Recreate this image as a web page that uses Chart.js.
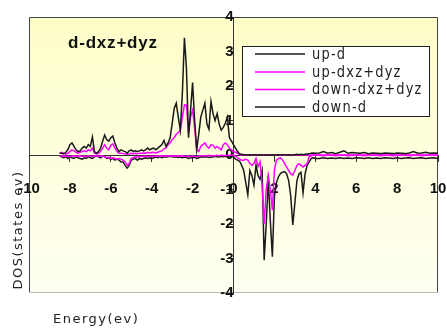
<!DOCTYPE html>
<html>
<head>
<meta charset="utf-8">
<script src="https://cdn.jsdelivr.net/npm/chart.js@4.4.1/dist/chart.umd.min.js"></script>
<style>
  html, body { margin: 0; padding: 0; background: #ffffff; }
  #dos { display: block; }
</style>
</head>
<body>
<canvas id="dos" width="447" height="329"></canvas>
<script>
// Energie (eV) - pas de 0.1 jusqu'a 4, puis 0.2
const energies = [
  -8.5, -8.4, -8.3, -8.2, -8.1, -8.0, -7.9, -7.8, -7.7, -7.6,
  -7.5, -7.4, -7.3, -7.2, -7.1, -7.0, -6.9, -6.8, -6.7, -6.6,
  -6.5, -6.4, -6.3, -6.2, -6.1, -6.0, -5.9, -5.8, -5.7, -5.6,
  -5.5, -5.4, -5.3, -5.2, -5.1, -5.0, -4.9, -4.8, -4.7, -4.6,
  -4.5, -4.4, -4.3, -4.2, -4.1, -4.0, -3.9, -3.8, -3.7, -3.6,
  -3.5, -3.4, -3.3, -3.2, -3.1, -3.0, -2.9, -2.8, -2.7, -2.6,
  -2.5, -2.4, -2.3, -2.2, -2.1, -2.0, -1.9, -1.8, -1.7, -1.6,
  -1.5, -1.4, -1.3, -1.2, -1.1, -1.0, -0.9, -0.8, -0.7, -0.6,
  -0.5, -0.4, -0.3, -0.2, -0.1, 0.0, 0.1, 0.2, 0.3, 0.4,
  0.5, 0.6, 0.7, 0.8, 0.9, 1.0, 1.1, 1.2, 1.3, 1.4,
  1.5, 1.6, 1.7, 1.8, 1.9, 2.0, 2.1, 2.2, 2.3, 2.4,
  2.5, 2.6, 2.7, 2.8, 2.9, 3.0, 3.1, 3.2, 3.3, 3.4,
  3.5, 3.6, 3.7, 3.8, 3.9, 4.0,
  4.2, 4.4, 4.6, 4.8, 5.0, 5.2, 5.4, 5.6, 5.8, 6.0,
  6.2, 6.4, 6.6, 6.8, 7.0, 7.2, 7.4, 7.6, 7.8, 8.0,
  8.2, 8.4, 8.6, 8.8, 9.0, 9.2, 9.4, 9.6, 9.8, 10.0
];

// up-d (spin haut, total d)
const upD = [
  0.05, 0.05, 0.03, 0.08, 0.15, 0.3, 0.35, 0.25, 0.15, 0.1,
  0.12, 0.2, 0.25, 0.2, 0.3, 0.25, 0.52, 0.1, 0.05, 0.1,
  0.2, 0.4, 0.58, 0.45, 0.4, 0.5, 0.55, 0.35, 0.2, 0.1,
  0.15, 0.12, 0.1, 0.05, 0.12, 0.15, 0.1, 0.12, 0.1, 0.12,
  0.15, 0.12, 0.15, 0.2, 0.15, 0.18, 0.2, 0.15, 0.2, 0.25,
  0.3, 0.42, 0.25, 0.35, 0.5, 0.9, 1.35, 1.5, 1.1, 0.72,
  1.8, 3.4, 2.5, 0.5, 1.3, 2.1, 1.0, 0.15, 0.6, 1.1,
  1.3, 1.5, 0.9, 0.75, 1.55, 1.2, 1.0, 1.2, 0.9, 0.72,
  0.8, 0.92, 1.1, 0.5, 0.4, 0.3, 0.2, 0.1, 0.03, 0.02,
  0.01, 0.01, 0.0, 0.01, 0.0, 0.01, 0.01, 0.0, 0.01, 0.0,
  0.0, 0.01, 0.0, 0.0, 0.01, 0.0, 0.0, 0.01, 0.0, 0.01,
  0.01, 0.0, 0.01, 0.0, 0.0, 0.01, 0.02, 0.01, 0.02, 0.01,
  0.02, 0.03, 0.04, 0.05, 0.06, 0.05,
  0.06, 0.1, 0.05, 0.07, 0.04, 0.08, 0.12, 0.05, 0.07, 0.06,
  0.05, 0.07, 0.04, 0.06, 0.05, 0.04, 0.06, 0.05, 0.04, 0.06,
  0.05, 0.04, 0.06, 0.1, 0.05, 0.06, 0.08, 0.05, 0.06, 0.05
];

// up-dxz+dyz
const upDxzDyz = [
  0.05, 0.08, 0.05, 0.03, 0.05, 0.1, 0.15, 0.12, 0.08, 0.05,
  0.08, 0.1, 0.12, 0.1, 0.15, 0.12, 0.2, 0.05, 0.03, 0.05,
  0.1, 0.2, 0.3, 0.2, 0.15, 0.28, 0.32, 0.2, 0.1, 0.05,
  0.05, 0.04, 0.03, 0.02, 0.03, 0.05, 0.04, 0.05, 0.04, 0.05,
  0.05, 0.06, 0.05, 0.08, 0.06, 0.07, 0.08, 0.06, 0.08, 0.1,
  0.12, 0.18, 0.2, 0.3, 0.35, 0.45, 0.5, 0.6, 0.65, 0.72,
  1.1, 1.45, 1.45, 0.63, 1.1, 1.3, 0.8, 0.15, 0.1, 0.25,
  0.3, 0.35, 0.25, 0.2, 0.3, 0.28, 0.2, 0.25, 0.2, 0.15,
  0.3, 0.35, 0.3, 0.2, 0.15, 0.1, 0.08, 0.05, 0.02, 0.0,
  0.0, 0.0, 0.0, 0.0, 0.0, 0.0, 0.0, 0.0, 0.0, 0.0,
  0.0, 0.0, 0.0, 0.0, 0.0, 0.0, 0.0, 0.0, 0.0, 0.0,
  0.0, 0.0, 0.0, 0.0, 0.0, 0.0, 0.0, 0.0, 0.0, 0.0,
  0.0, 0.0, 0.0, 0.0, 0.0, 0.0,
  0.0, 0.0, 0.0, 0.0, 0.0, 0.0, 0.0, 0.0, 0.0, 0.0,
  0.0, 0.0, 0.0, 0.0, 0.0, 0.0, 0.0, 0.0, 0.0, 0.0,
  0.0, 0.0, 0.0, 0.0, 0.0, 0.0, 0.0, 0.0, 0.0, 0.0
];

// down-dxz+dyz (spin bas, valeurs negatives)
const downDxzDyz = [
  -0.02, -0.03, -0.02, -0.04, -0.03, -0.05, -0.03, -0.02, -0.04, -0.03,
  -0.02, -0.04, -0.03, -0.05, -0.02, -0.03, -0.04, -0.02, -0.03, -0.04,
  -0.03, -0.02, -0.05, -0.08, -0.06, -0.1, -0.08, -0.1, -0.12, -0.1,
  -0.12, -0.15, -0.2, -0.3, -0.25, -0.1, -0.08, -0.05, -0.06, -0.05,
  -0.04, -0.05, -0.03, -0.04, -0.05, -0.03, -0.04, -0.03, -0.02, -0.03,
  -0.02, -0.03, -0.02, -0.03, -0.02, -0.03, -0.02, -0.03, -0.02, -0.03,
  -0.02, -0.03, -0.04, -0.03, -0.05, -0.03, -0.04, -0.05, -0.03, -0.02,
  -0.02, -0.03, -0.02, -0.01, -0.02, -0.03, -0.02, -0.01, -0.02, -0.01,
  -0.01, -0.02, -0.01, -0.01, 0.0, 0.0, -0.03, -0.08, -0.12, -0.15,
  -0.15, -0.12, -0.15, -0.25, -0.3, -0.24, -0.1, -0.34, -0.2, -0.9,
  -2.0, -1.0, -0.58, -1.0, -1.6, -0.43, -0.15, -0.1, -0.08, -0.15,
  -0.25, -0.35, -0.45, -0.55, -0.58, -0.45, -0.3, -0.25, -0.3, -0.35,
  -0.3, -0.25, -0.05, -0.02, -0.01, -0.01,
  -0.01, -0.02, -0.01, -0.01, -0.02, -0.01, -0.01, -0.02, -0.01, -0.01,
  -0.01, -0.02, -0.01, -0.01, -0.01, -0.02, -0.01, -0.01, -0.02, -0.01,
  -0.01, -0.01, -0.02, -0.01, -0.01, -0.02, -0.01, -0.01, -0.01, -0.01
];

// down-d
const downD = [
  -0.03, -0.05, -0.08, -0.05, -0.1, -0.05, -0.08, -0.1, -0.05, -0.08,
  -0.1, -0.12, -0.08, -0.1, -0.05, -0.08, -0.1, -0.05, -0.03, -0.05,
  -0.08, -0.03, -0.05, -0.1, -0.08, -0.12, -0.1, -0.15, -0.12, -0.15,
  -0.2, -0.2, -0.3, -0.38, -0.3, -0.15, -0.12, -0.1, -0.15, -0.1,
  -0.12, -0.1, -0.08, -0.1, -0.08, -0.1, -0.08, -0.05, -0.08, -0.05,
  -0.08, -0.05, -0.06, -0.05, -0.04, -0.05, -0.06, -0.05, -0.07, -0.06,
  -0.08, -0.06, -0.07, -0.1, -0.08, -0.08, -0.06, -0.1, -0.08, -0.06,
  -0.05, -0.06, -0.05, -0.07, -0.05, -0.06, -0.04, -0.05, -0.06, -0.04,
  -0.05, -0.04, -0.05, -0.05, -0.03, -0.05, -0.12, -0.15, -0.18, -0.3,
  -0.45, -0.8, -1.15, -0.45, -0.6, -0.87, -0.3, -0.6, -0.7, -0.45,
  -3.05, -2.0, -0.72, -1.9, -2.95, -1.2, -0.8, -0.63, -0.53, -0.5,
  -0.48, -0.55, -0.75, -1.2, -2.03, -1.4, -0.75, -0.55, -0.5, -1.1,
  -0.55, -0.3, -0.2, -0.1, -0.08, -0.1,
  -0.1, -0.08, -0.1, -0.09, -0.1, -0.08, -0.1, -0.09, -0.1, -0.08,
  -0.09, -0.1, -0.08, -0.1, -0.09, -0.1, -0.08, -0.09, -0.1, -0.08,
  -0.1, -0.09, -0.08, -0.1, -0.09, -0.08, -0.1, -0.09, -0.08, -0.1
];

const seriesNames = ['up-d', 'up-dxz+dyz', 'down-dxz+dyz', 'down-d'];
const xTicks = [-10, -8, -6, -4, -2, 0, 2, 4, 6, 8, 10];
const yTicks = [-4, -3, -2, -1, 0, 1, 2, 3, 4];
const chartTitle = 'd-dxz+dyz';
const xTitle = 'Energy(ev)';
const yTitle = 'DOS(states ev)';

// Couleurs
const colors = {
  black: '#1a1a1a',
  magenta: '#ff00ff',
  axis: '#333333',
  text: '#111111',
  bgTop: '#fdfdc8',
  bgBottom: '#fffff2'
};

function toPoints(values) {
  return values.map((v, i) => ({ x: energies[i], y: v }));
}

// Les axes centres ne doivent pas reserver de marge supplementaire
function noScalePadding(scale) {
  scale.paddingLeft = 0;
  scale.paddingRight = 0;
  scale.paddingTop = 0;
  scale.paddingBottom = 0;
}

// Fond jaune degrade + cadre du graphique
const plotFrame = {
  id: 'plotFrame',
  beforeDraw(chart) {
    const { ctx, chartArea: a } = chart;
    const g = ctx.createLinearGradient(0, a.top, 0, a.bottom);
    g.addColorStop(0, colors.bgTop);
    g.addColorStop(1, colors.bgBottom);
    ctx.save();
    ctx.fillStyle = g;
    ctx.fillRect(a.left, a.top, a.right - a.left, a.bottom - a.top);
    ctx.strokeStyle = '#444444';
    ctx.lineWidth = 1;
    ctx.beginPath();
    ctx.moveTo(a.left + 0.5, a.bottom);
    ctx.lineTo(a.left + 0.5, a.top + 0.5);
    ctx.lineTo(a.right - 0.5, a.top + 0.5);
    ctx.lineTo(a.right - 0.5, a.bottom);
    ctx.stroke();
    ctx.strokeStyle = '#bbbbbb';
    ctx.beginPath();
    ctx.moveTo(a.left, a.bottom - 0.5);
    ctx.lineTo(a.right, a.bottom - 0.5);
    ctx.stroke();
    ctx.restore();
  }
};

// Titre, legende encadree et titres des axes
const annotations = {
  id: 'annotations',
  afterDraw(chart) {
    const { ctx } = chart;
    ctx.save();
    ctx.fillStyle = colors.text;
    ctx.textBaseline = 'alphabetic';
    ctx.textAlign = 'left';

    ctx.font = "bold 17px 'Liberation Sans'";
    ctx.letterSpacing = '0.8px';
    ctx.fillText(chartTitle, 68, 48);

    // legende
    ctx.fillStyle = '#ffffff';
    ctx.fillRect(242, 46, 187, 70);
    ctx.strokeStyle = '#222222';
    ctx.lineWidth = 1;
    ctx.strokeRect(242.5, 46.5, 187, 70);
    const rows = [54, 72, 89.5, 107];
    ctx.font = "13px 'DejaVu Sans'";
    ctx.letterSpacing = '1.2px';
    ctx.textBaseline = 'middle';
    chart.data.datasets.forEach((ds, i) => {
      ctx.strokeStyle = ds.borderColor;
      ctx.lineWidth = 1.5;
      ctx.beginPath();
      ctx.moveTo(255, rows[i]);
      ctx.lineTo(305, rows[i]);
      ctx.stroke();
      // texte un peu etire en hauteur comme l'original
      ctx.save();
      ctx.translate(312, rows[i] + 1);
      ctx.scale(1, 1.15);
      ctx.fillStyle = '#222222';
      ctx.fillText(ds.label, 0, 0);
      ctx.restore();
    });

    // titres des axes
    ctx.font = "13px 'DejaVu Sans'";
    ctx.letterSpacing = '1.5px';
    ctx.fillStyle = '#222222';
    ctx.fillText(xTitle, 53, 320);

    ctx.translate(19, 230);
    ctx.rotate(-Math.PI / 2);
    ctx.textAlign = 'center';
    ctx.fillText(yTitle, 0, 0);
    ctx.restore();
  }
};

const ctx = document.getElementById('dos').getContext('2d');
const lineColors = [colors.black, colors.magenta, colors.magenta, colors.black];
const seriesValues = [upD, upDxzDyz, downDxzDyz, downD];

new Chart(ctx, {
  type: 'line',
  data: {
    datasets: seriesNames.map((name, i) => ({
      label: name,
      data: toPoints(seriesValues[i]),
      borderColor: lineColors[i],
      borderWidth: 1.5,
      pointRadius: 0,
      tension: 0,
      fill: false
    }))
  },
  options: {
    responsive: false,
    animation: false,
    layout: { padding: { left: 29, right: 9, top: 17, bottom: 36 } },
    plugins: {
      legend: { display: false },
      tooltip: { enabled: false }
    },
    scales: {
      x: {
        type: 'linear',
        position: { y: 0 },
        min: -10,
        max: 10,
        afterBuildTicks: (axis) => { axis.ticks = xTicks.map(v => ({ value: v })); },
        afterFit: noScalePadding,
        grid: { drawOnChartArea: false, drawTicks: true, tickLength: 6, color: colors.axis },
        border: { display: true, color: colors.axis, width: 1 },
        ticks: {
          padding: 19,
          maxRotation: 0,
          autoSkip: false,
          color: colors.text,
          font: { family: 'Liberation Sans', size: 15, weight: 'bold' }
        }
      },
      y: {
        type: 'linear',
        position: { x: 0 },
        min: -4,
        max: 4,
        afterBuildTicks: (axis) => { axis.ticks = yTicks.map(v => ({ value: v })); },
        afterFit: noScalePadding,
        grid: { drawOnChartArea: false, drawTicks: true, tickLength: 6, color: colors.axis },
        border: { display: true, color: colors.axis, width: 1 },
        ticks: {
          padding: 18,
          autoSkip: false,
          color: colors.text,
          font: { family: 'Liberation Sans', size: 15, weight: 'bold' }
        }
      }
    }
  },
  plugins: [plotFrame, annotations]
});
</script>
</body>
</html>
